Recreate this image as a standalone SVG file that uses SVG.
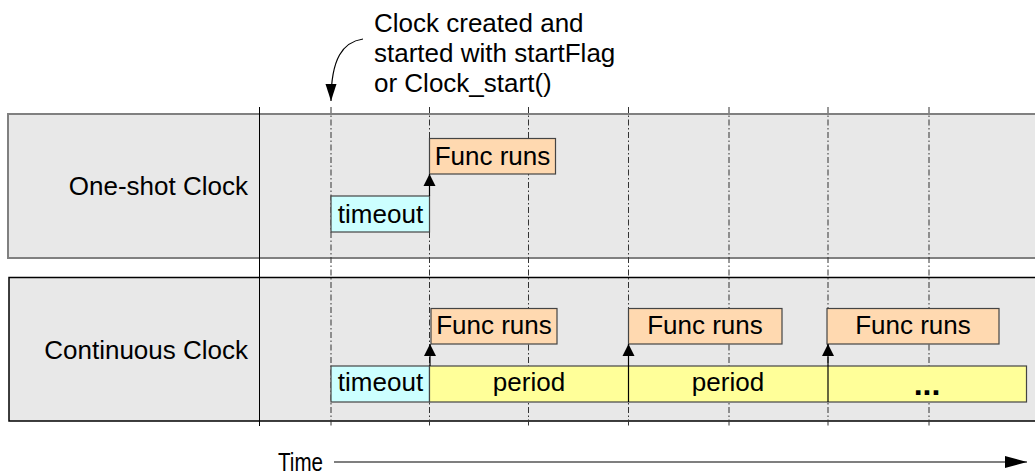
<svg xmlns="http://www.w3.org/2000/svg" width="1035" height="474" viewBox="0 0 1035 474">
<defs>
<style>
text{font-family:"Liberation Sans",Arial,sans-serif;font-size:26px;fill:#000}
.band{fill:#e8e8e8}
.grid{stroke:#333;stroke-width:1;stroke-dasharray:6,2.5,1.5,2.5;fill:none}
.box{stroke:#444;stroke-width:1.2}
.to{fill:#ccffff}
.fr{fill:#ffd9b0}
.pe{fill:#ffff99}
.conn{stroke:#000;stroke-width:1.2;fill:none}
.mid{text-anchor:middle}
</style>
<marker id="ah" markerUnits="userSpaceOnUse" markerWidth="14" markerHeight="14" viewBox="0 0 12 14" refX="12" refY="7" orient="auto">
<path d="M0,1 L12,7 L0,13 Z" fill="#000"/>
</marker>
<marker id="ahCurve" markerUnits="userSpaceOnUse" markerWidth="18" markerHeight="14" viewBox="0 0 17 14" refX="17" refY="7" orient="auto">
<path d="M0,1.5 L17,7 L0,12.5 Z" fill="#000"/>
</marker>
<marker id="ahBig" markerUnits="userSpaceOnUse" markerWidth="24" markerHeight="14" viewBox="0 0 22 14" refX="22" refY="7" orient="auto">
<path d="M0,1 L22,7 L0,13 Z" fill="#000"/>
</marker>
</defs>

<g id="band-oneshot">
<rect class="band" x="8" y="114" width="1040" height="144" stroke="#808080" stroke-width="2"/>
<text x="248" y="195" text-anchor="end">One-shot Clock</text>
</g>
<g id="band-continuous">
<rect class="band" x="9" y="277.5" width="1040" height="143.5" stroke="#000" stroke-width="1.5"/>
<text x="248" y="359" text-anchor="end">Continuous Clock</text>
</g>

<g id="grid">
<line x1="259.5" y1="107" x2="259.5" y2="426" stroke="#000" stroke-width="1"/>
<line class="grid" x1="331" y1="107" x2="331" y2="426"/>
<line class="grid" x1="429.5" y1="107" x2="429.5" y2="426"/>
<line class="grid" x1="528.5" y1="107" x2="528.5" y2="426"/>
<line class="grid" x1="628.5" y1="107" x2="628.5" y2="426"/>
<line class="grid" x1="729" y1="107" x2="729" y2="426"/>
<line class="grid" x1="828" y1="107" x2="828" y2="426"/>
<line class="grid" x1="929" y1="107" x2="929" y2="426"/>
</g>

<g id="oneshot-timeout">
<rect class="box to" x="331" y="196" width="98.5" height="36"/>
<text class="mid" x="380.5" y="223">timeout</text>
</g>
<g id="oneshot-func">
<rect class="box fr" x="429.5" y="138.5" width="126" height="35.5"/>
<text class="mid" x="492.5" y="165">Func runs</text>
</g>

<g id="cont-timeout">
<rect class="box to" x="331" y="366" width="98.5" height="36"/>
<text class="mid" x="380.5" y="391">timeout</text>
</g>
<g id="cont-period">
<rect class="box pe" x="429.5" y="366" width="597" height="36"/>
<text class="mid" x="529" y="391">period</text>
<text class="mid" x="728" y="391">period</text>
<text class="mid" x="927" y="395" style="font-size:32px;font-weight:bold">...</text>
</g>
<g id="cont-func1">
<rect class="box fr" x="431" y="308.5" width="126" height="35.5"/>
<text class="mid" x="494" y="334">Func runs</text>
</g>
<g id="cont-func2">
<rect class="box fr" x="628.5" y="308.5" width="153.5" height="35.5"/>
<text class="mid" x="705" y="334">Func runs</text>
</g>
<g id="cont-func3">
<rect class="box fr" x="827" y="308.5" width="172" height="35.5"/>
<text class="mid" x="913" y="334">Func runs</text>
</g>

<g id="annotation">
<text x="374" y="32">Clock created and</text>
<text x="374" y="62">started with startFlag</text>
<text x="374" y="92">or Clock_start()</text>
</g>

<g id="time-label">
<text x="278" y="471" style="font-size:25px" textLength="45" lengthAdjust="spacingAndGlyphs">Time</text>
</g>

<g id="connectors">
<path class="conn" d="M363,39 C343,42 331,58 331,101" marker-end="url(#ahCurve)"/>
<line class="conn" x1="429.5" y1="196" x2="429.5" y2="174" marker-end="url(#ah)"/>
<line class="conn" x1="430" y1="366" x2="430" y2="344" marker-end="url(#ah)"/>
<line class="conn" x1="628.5" y1="402" x2="628.5" y2="344" marker-end="url(#ah)"/>
<line class="conn" x1="828" y1="402" x2="828" y2="344" marker-end="url(#ah)"/>
<line class="conn" x1="334" y1="462" x2="1027" y2="462" marker-end="url(#ahBig)"/>
</g>
</svg>
